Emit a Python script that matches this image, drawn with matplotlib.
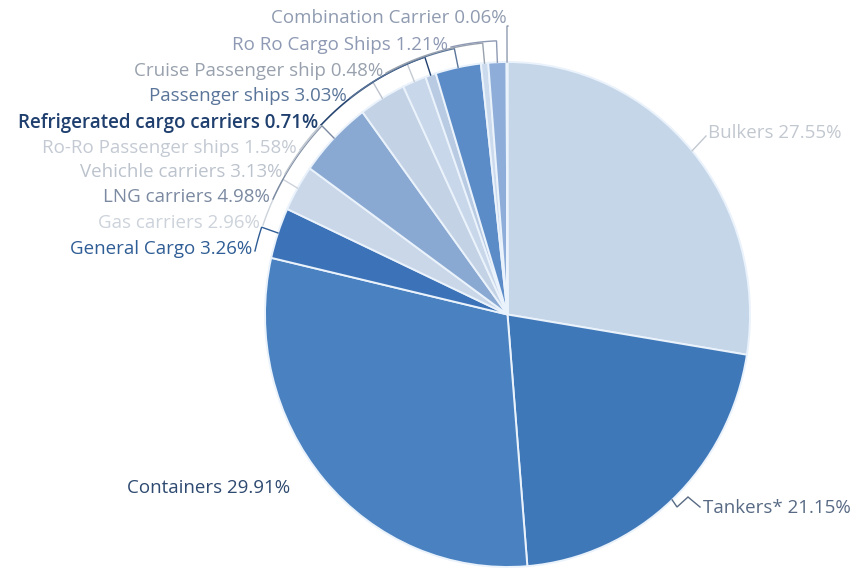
import numpy as np
import matplotlib
matplotlib.use("Agg")
import matplotlib.pyplot as plt

# Fleet composition, clockwise from the top
categories = [
    "Bulkers", "Tankers*", "Containers", "General Cargo", "Gas carriers",
    "LNG carriers", "Vehichle carriers", "Ro-Ro Passenger ships",
    "Refrigerated cargo carriers", "Passenger ships", "Cruise Passenger ship",
    "Ro Ro Cargo Ships", "Combination Carrier",
]
shares = [27.55, 21.15, 29.91, 3.26, 2.96, 4.98, 3.13, 1.58, 0.71, 3.03, 0.48, 1.21, 0.06]

wedge_colors = [
    "#c6d6e9", "#3f78b8", "#4a82c1", "#3c72b7", "#c9d7e9",
    "#8aa9d2", "#c3d2e5", "#c9d7ea", "#b9cbe3", "#5b8cc8",
    "#cbdaec", "#8eaed9", "#a3bbdc",
]
label_colors = [
    "#c2c8d0", "#586a84", "#2e4a70", "#2f5d95", "#cdd3db",
    "#7b8aa1", "#bcc3cd", "#c4cad3", "#1f3f6e", "#5a7599",
    "#98a1ad", "#8e99b3", "#8f9bb0",
]

W, H = 865, 570
CX, CY, RX, RY = 507.5, 314.5, 242.5, 252.5

fig = plt.figure(figsize=(W / 100, H / 100), dpi=100)
ax = fig.add_axes([(CX - RX) / W, (H - (CY + RY)) / H, 2 * RX / W, 2 * RY / H])
wedges, _ = ax.pie(
    shares, colors=wedge_colors, startangle=90, counterclock=False,
    wedgeprops=dict(edgecolor="#eaf2fb", linewidth=1.4), radius=1.0,
)
ax.set_xlim(-1, 1)
ax.set_ylim(-1, 1)
ax.set_aspect("auto")
ax.axis("off")

plt.rcParams["font.family"] = ["Open Sans", "DejaVu Sans"]


def to_data(px, py):
    return (px - CX) / RX, (CY - py) / RY


# label placement: (pixel x, pixel y, horizontal alignment, leader style)
placement = {
    "Bulkers": (708, 133, "left", "direct"),
    "Tankers*": (703, 508, "left", "zigzag"),
    "Containers": (127, 488, "left", None),
    "General Cargo": (252, 249, "right", "ring"),
    "Gas carriers": (260, 223, "right", "ring"),
    "LNG carriers": (270, 197, "right", "ring"),
    "Vehichle carriers": (282, 172, "right", "ring"),
    "Ro-Ro Passenger ships": (297, 148, "right", "ring"),
    "Refrigerated cargo carriers": (318, 123, "right", "ring"),
    "Passenger ships": (347, 96, "right", "ring"),
    "Cruise Passenger ship": (383, 71, "right", "ring"),
    "Ro Ro Cargo Ships": (448, 45, "right", "ring"),
    "Combination Carrier": (507, 18, "right", "ring"),
}

FS = 13.5
for name, val, w, tc in zip(categories, shares, wedges, label_colors):
    px, py, ha, style = placement[name]
    weight = "semibold" if name == "Refrigerated cargo carriers" else "normal"
    ax.text(*to_data(px, py), f"{name} {val:.2f}%", ha=ha, va="center",
            fontsize=FS, color=tc, fontweight=weight, clip_on=False)
    if style is None:
        continue
    mid = np.deg2rad((w.theta1 + w.theta2) / 2)
    ex, ey = np.cos(mid), np.sin(mid)
    if style == "direct":
        sx, sy = to_data(px - 2, py + 3)
        pts = [(sx, sy), (ex, ey)]
    elif style == "zigzag":
        sx, sy = to_data(px - 3, py - 1)
        ax_, ay_ = to_data(px - 15, py - 11)
        bx, by = to_data(px - 26, py - 1)
        pts = [(sx, sy), (ax_, ay_), (bx, by), (ex, ey)]
    else:
        if name == "Combination Carrier":
            sx, sy = to_data(px + 1, py + 8)
        else:
            sx, sy = to_data(px + 3, py + 2)
        r = np.hypot(sx, sy)
        a0 = np.arctan2(sy, sx)
        d = (mid - a0 + np.pi) % (2 * np.pi) - np.pi
        arc = np.linspace(a0, a0 + d, 30)
        pts = [(sx, sy)] + [(r * np.cos(a), r * np.sin(a)) for a in arc] + [(ex, ey)]
    xs, ys = zip(*pts)
    ax.plot(xs, ys, color=tc, lw=1.0, clip_on=False, solid_joinstyle="miter")

fig.savefig("out.png", dpi=100, facecolor="white")
